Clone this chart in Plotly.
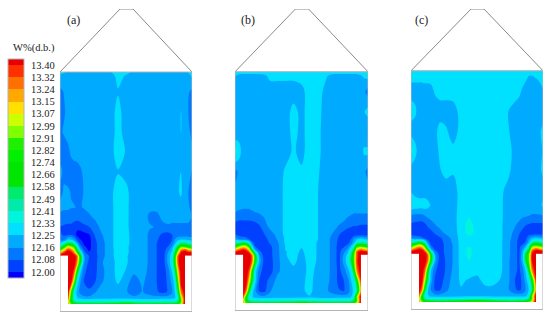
import plotly.graph_objects as go

tick_labels = ["12.00","12.08","12.16","12.25","12.33","12.41","12.49","12.58","12.66","12.74","12.82","12.91","12.99","13.07","13.15","13.24","13.32","13.40"]
band_colors = ["#0000ff","#0040ff","#0078ff","#00aaff","#00e1ff","#00f5dc","#00ebaa","#00eb6e","#00e600","#00e600","#00f000","#1ef000","#80ff00","#ccff00","#ffe000","#ffa800","#ff7000","#ff3000","#e80000"]

# silo coordinates: across the bin, and depth below the eave
across = [0,4,8,11,14,17,20,24,29,35,42,50,58,66,74,82,90,97,103,108,112,115,118,121,125,128,132]
depth = [0,4,20,40,60,80,100,120,135,145,155,163,168,172,175,178,181,184,190,200,210,220,226,229,232]

# moisture in hundredths of a percent above 12.00, top row first
case_a = [
[28,26,23,22,22,22,22,22,22,22,22,24,29,27,23,22,22,22,22,22,22,22,22,22,23,25,28],
[22,21,20,20,20,20,20,20,20,20,20,21,27,24,21,20,20,20,20,20,20,20,20,20,20,21,26],
[14,17,20,20,20,20,20,20,20,20,20,21,24,22,20,20,20,20,20,20,20,20,20,20,20,18,14],
[12,15,20,20,20,20,20,20,20,20,20,20,28,20,20,20,20,20,20,20,20,20,21,25,20,17,10],
[14,18,20,20,20,20,20,20,20,20,20,20,28,21,20,20,20,20,20,20,20,20,20,25,20,20,13],
[12,10,14,18,20,20,20,20,20,20,20,21,29,24,20,20,20,20,20,20,20,20,21,20,19,23,20],
[20,14,12,12,12,13,15,18,20,20,20,20,24,22,20,20,20,20,20,20,20,20,20,25,22,20,16],
[13,18,18,16,14,13,14,17,20,20,20,21,30,27,20,20,20,20,20,20,20,20,24,26,20,17,12],
[19,18,18,17,17,16,16,17,19,20,20,21,30,27,20,20,18,18,20,20,20,20,24,22,20,18,14],
[14,13,13,13,12,12,13,14,15,18,20,21,30,27,20,20,15,15,18,20,20,20,20,20,20,20,16],
[8,7,6,6,4,2,3,6,8,13,19,21,30,27,20,20,17,16,15,15,14,14,14,14,14,14,15],
[10,7,8,8,5,-2,-4,-3,-1,9,16,21,30,28,20,20,15,11,6,5,8,10,11,11,12,12,13],
[14,15,27,26,20,9,1,-3,-3,7,15,21,30,28,20,20,15,9,4,3,8,18,24,26,26,24,22],
[30,45,65,62,50,25,8,-1,-3,6,14,21,30,28,20,20,15,8,3,5,12,25,38,55,55,48,40],
[45,75,110,100,85,45,15,2,-3,6,14,21,30,27,20,20,15,8,3,9,18,36,65,90,85,78,70],
[80,110,138,130,110,65,28,7,-2,6,14,21,29,27,20,20,15,8,3,13,24,48,85,125,135,120,110],
[120,140,150,148,130,92,50,12,2,6,14,21,29,27,20,20,15,8,3,17,28,60,105,145,150,150,150],
[150,150,150,150,150,130,72,18,8,5,14,21,29,26,20,20,15,8,3,19,30,70,132,150,150,150,150],
[150,150,150,150,150,128,70,18,6,5,16,20,28,26,20,20,15,8,3,19,32,75,135,150,150,150,150],
[150,150,150,150,135,72,28,10,5,6,15,20,28,24,18,20,14,8,3,12,25,50,110,150,150,150,150],
[150,150,150,148,95,32,18,8,5,8,16,20,26,20,12,18,13,8,4,10,19,30,85,148,150,150,150],
[150,150,150,90,35,22,14,10,10,16,20,20,20,18,10,17,14,9,6,9,15,26,55,125,150,150,150],
[150,150,135,75,38,26,22,20,19,20,21,21,22,22,20,20,19,20,21,21,21,24,38,95,150,150,150],
[150,150,115,70,45,38,37,36,36,36,36,36,37,38,37,36,36,36,36,36,36,38,50,85,150,150,150],
[150,150,125,90,72,65,62,62,62,62,62,64,66,70,66,62,62,62,62,62,62,64,75,100,150,150,150],
]

case_b = [
[29,29,29,29,29,29,29,29,29,29,29,29,29,29,29,29,29,29,29,29,29,29,29,29,29,29,29],
[25,22,21,21,21,21,21,22,23,27,27,27,27,28,29,30,26,22,21,21,21,21,21,22,24,26,28],
[18,20,20,20,20,20,20,20,20,20,20,20,20,22,29,29,22,20,20,20,20,20,20,20,20,18,13],
[24,19,20,20,20,20,20,20,20,20,20,20,28,22,29,28,21,20,20,20,20,20,20,20,20,24,28],
[16,20,20,20,20,20,20,20,20,20,20,20,28,22,29,27,21,20,20,20,20,20,20,20,20,20,16],
[38,29,20,20,20,20,20,20,20,20,20,21,26,22,29,27,21,20,20,20,20,20,20,20,21,26,27],
[14,18,20,20,20,20,20,20,20,20,20,26,30,26,30,26,20,20,20,20,20,20,20,20,20,18,14],
[18,20,20,20,20,20,20,20,20,20,20,27,30,30,30,25,20,20,20,20,20,20,20,20,20,20,20],
[20,19,18,18,18,19,20,20,20,20,20,27,30,31,30,25,20,20,20,20,20,20,20,20,20,20,20],
[14,12,12,12,12,13,14,15,17,20,20,27,30,31,30,25,20,20,20,20,17,16,15,15,15,15,15],
[4,3,3,3,3,3,4,7,13,19,20,27,30,31,30,25,20,19,16,13,10,9,8,8,7,7,7],
[8,4,3,3,3,2,2,3,8,13,19,27,30,30,30,25,20,16,9,5,3,3,3,3,3,3,4],
[22,16,14,12,8,3,2,2,5,11,17,26,29,28,30,25,20,14,7,4,3,8,18,24,28,26,22],
[45,50,60,56,40,14,4,2,4,9,15,26,29,27,29,24,20,14,6,4,6,12,24,45,50,48,42],
[70,90,105,100,75,28,8,3,3,7,14,25,29,26,29,24,20,14,5,7,12,22,40,78,85,80,70],
[105,125,138,130,105,50,16,6,3,6,14,25,29,24,29,24,20,14,5,11,18,32,55,108,125,115,105],
[140,150,150,150,135,90,42,12,3,6,14,24,28,23,29,24,20,14,5,15,24,42,75,135,150,150,145],
[150,150,150,150,150,128,68,18,4,6,14,24,28,22,29,24,20,14,5,18,28,50,85,135,150,150,150],
[150,150,150,150,150,130,72,22,5,5,14,22,27,21,28,24,20,14,5,20,30,55,85,138,150,150,150],
[150,150,150,150,135,78,30,12,4,5,15,20,22,20,28,22,20,14,6,12,22,28,62,125,150,150,150],
[150,150,150,150,112,62,28,8,4,12,19,20,20,22,28,20,19,14,6,8,13,24,32,70,140,150,150],
[150,150,150,130,65,30,18,8,6,16,20,20,20,23,27,20,18,14,9,8,12,20,28,45,125,150,150],
[150,150,135,75,38,26,22,20,19,20,21,21,21,22,24,21,20,20,21,21,21,24,38,95,150,150,150],
[150,150,115,70,45,38,37,36,36,36,36,37,37,38,37,37,36,36,36,36,36,38,52,85,150,150,150],
[150,150,125,90,72,65,62,62,62,62,62,64,66,70,66,62,62,62,62,62,62,64,76,100,150,150,150],
]

case_c = [
[30,30,30,30,30,30,30,30,30,30,30,30,30,30,30,30,30,30,30,30,30,30,30,30,30,30,30],
[29,29,29,29,29,29,29,29,29,29,29,29,29,29,29,29,29,29,29,29,29,27,25,25,26,28,29],
[20,20,20,20,21,21,22,26,29,29,29,29,29,29,29,29,29,29,29,27,23,21,20,20,20,20,24],
[30,27,20,20,20,20,20,20,20,20,21,28,29,29,29,29,29,25,22,20,20,20,20,20,20,20,16],
[20,20,20,20,20,20,20,22,28,26,20,28,29,29,29,29,29,26,20,20,20,20,20,20,20,22,28],
[38,28,20,20,20,20,20,20,27,29,27,28,29,29,29,29,29,29,22,20,20,20,20,20,20,20,26],
[20,20,20,20,20,20,20,20,24,28,26,29,29,29,29,29,29,28,20,20,20,20,20,20,20,22,27],
[24,21,20,20,20,20,20,20,20,20,20,29,29,29,29,29,27,21,20,20,20,20,20,20,20,20,20],
[32,30,29,29,29,27,24,20,20,20,20,29,30,29,29,29,26,21,20,20,20,20,20,20,20,21,27],
[16,15,15,15,17,19,20,20,20,20,21,29,32,29,29,29,26,21,20,20,18,18,17,16,16,16,16],
[6,5,4,4,6,10,13,16,19,20,21,29,36,30,29,29,26,20,18,14,11,8,7,6,6,6,6],
[3,2,2,2,2,3,5,9,13,18,21,28,36,30,29,29,26,20,15,9,4,3,3,3,3,3,4],
[20,14,12,10,7,3,3,4,7,12,19,28,30,29,29,29,26,20,13,7,3,6,16,22,26,24,20],
[42,48,58,54,38,14,5,3,5,11,18,28,29,29,29,29,26,19,12,6,5,10,22,42,48,46,40],
[68,88,105,98,72,26,8,3,5,10,17,28,30,29,29,29,26,19,12,6,10,18,38,75,82,78,70],
[102,122,135,128,100,48,15,5,5,10,17,28,35,29,29,29,26,19,12,6,16,30,52,105,122,112,102],
[138,148,150,150,132,88,38,10,5,10,17,28,35,29,29,29,26,19,12,6,22,46,72,132,150,150,142],
[150,150,150,150,150,125,66,18,4,10,17,28,35,29,29,29,26,19,12,6,25,62,90,140,150,150,150],
[150,150,150,150,150,128,70,21,4,9,17,28,33,29,29,29,26,18,12,6,26,65,92,142,150,150,150],
[150,150,150,150,130,68,25,10,4,9,18,27,29,28,29,29,26,18,12,6,15,28,66,125,150,150,150],
[150,150,150,148,100,50,20,7,5,11,20,26,24,22,28,28,24,19,9,5,11,22,32,68,140,150,150],
[150,150,150,125,60,25,16,8,8,15,20,24,23,21,22,22,20,18,10,7,10,18,26,50,125,150,150],
[150,150,130,72,36,26,22,20,20,20,21,22,23,24,23,22,22,22,22,22,22,24,34,90,150,150,150],
[150,150,115,72,48,40,38,38,38,38,38,38,40,42,40,38,38,38,38,38,38,40,52,88,150,150,150],
[150,150,125,95,78,72,70,68,68,68,70,75,80,85,80,72,68,66,66,68,72,78,90,110,150,150,150],
]

panel_names = ["(a)", "(b)", "(c)"]
cases = [case_a, case_b, case_c]

W, H = 550, 319
# left, right, eave, base and label position of each panel, page pixels
panels = [(60, 192, 72, 312, 73), (235, 368, 72, 311, 248), (411, 543, 71, 310, 422)]
apex_y = 9
STEP = 1.4 / 17
stops = []
for i, c in enumerate(band_colors):
    stops.append([i / 19, c])
    stops.append([(i + 1) / 19, c])
GRAY = "#8a8a8a"
FRAME = "#b4b4b4"

fig = go.Figure()
shapes, annos = [], []
layout_axes = {}
for n, (l, r, t, b, lx) in enumerate(panels):
    sfx = "" if n == 0 else str(n + 1)
    z = [[12 + v / 100 for v in row] for row in cases[n]]
    assert all(len(row) == len(across) for row in z) and len(z) == len(depth)
    tr = dict(
        x=across, y=depth, z=z, xaxis="x" + sfx, yaxis="y" + sfx,
        contours=dict(start=12, end=13.4, size=STEP, coloring="fill", showlines=False),
        line=dict(width=0), colorscale=stops, hoverinfo="skip", showscale=False,
    )
    if n == 0:
        tr.update(
            showscale=True,
            colorbar=dict(
                x=8 / W, xanchor="left", xpad=0, y=1 - 59 / H, yanchor="top", ypad=0,
                len=219, lenmode="pixels", thickness=16, thicknessmode="pixels",
                tickvals=[12 + i * STEP for i in range(18)], ticktext=tick_labels,
                ticks="outside", ticklen=5, tickcolor="rgba(0,0,0,0)", outlinecolor=FRAME, outlinewidth=1,
                tickfont=dict(family="Liberation Serif", size=10.5, color="#222"),
            ),
        )
    fig.add_trace(go.Contour(**tr))
    top = -(t - apex_y)
    layout_axes["xaxis" + sfx] = dict(domain=[l / W, r / W], range=[0, 132], visible=False, fixedrange=True)
    layout_axes["yaxis" + sfx] = dict(domain=[1 - b / H, 1 - apex_y / H], range=[240, top], visible=False, fixedrange=True)
    xr, yr = "x" + sfx, "y" + sfx
    s = dict(xref=xr, yref=yr, layer="above")
    for x0, y0, x1, y1 in [(0, 183.6, 8, 240), (125, 183.6, 132, 240), (0, 232, 132, 240)]:
        shapes.append(dict(type="rect", x0=x0, x1=x1, y0=y0, y1=y1, fillcolor="white", line_width=0, **s))
    shapes.append(dict(type="path", path=f"M0,0 L60,{top} L73,{top} L132,0", line=dict(color=GRAY, width=1), **s))
    shapes.append(dict(type="path", path="M0,0 L0,239.5 L132,239.5 L132,0 Z", line=dict(color=FRAME, width=1), **s))
    annos.append(dict(xref="paper", yref="paper", x=lx / W, y=1 - 20 / H, text=panel_names[n], showarrow=False,
                      xanchor="center", yanchor="middle",
                      font=dict(family="Liberation Serif", size=12, color="#222")))
annos.append(dict(xref="paper", yref="paper", x=34 / W, y=1 - 48 / H, text="W%(d.b.)", showarrow=False,
                  xanchor="center", yanchor="middle",
                  font=dict(family="Liberation Serif", size=10.5, color="#222")))
fig.update_layout(width=W, height=H, margin=dict(l=0, r=0, t=0, b=0, autoexpand=False), paper_bgcolor="white",
                  plot_bgcolor="white", shapes=shapes, annotations=annos, **layout_axes)
fig.write_html("out.html", post_script="document.body.style.margin='0';", config={"displayModeBar": False})
